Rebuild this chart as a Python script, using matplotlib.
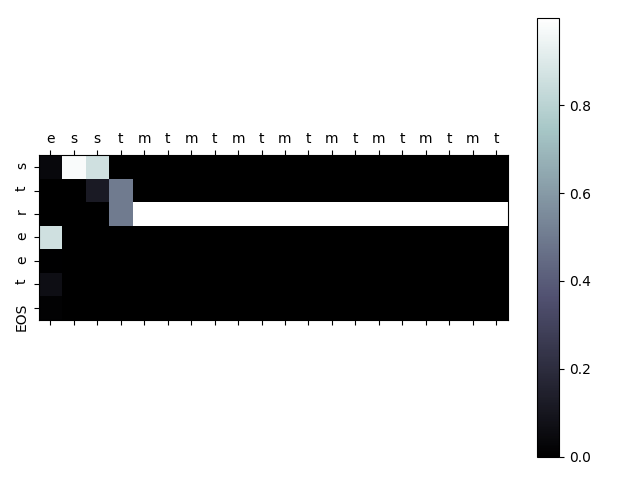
import matplotlib
matplotlib.use("Agg")
import matplotlib.pyplot as plt
import matplotlib.ticker as ticker
import numpy as np

input_labels = ["e", "s", "s", "t", "m", "t", "m", "t", "m", "t",
                "m", "t", "m", "t", "m", "t", "m", "t", "m", "t"]
output_labels = ["s", "t", "r", "e", "e", "t", "EOS"]

row_s = [0.04, 0.98, 0.86, 0, 0, 0, 0, 0, 0, 0, 0, 0, 0, 0, 0, 0, 0, 0, 0, 0]
row_t = [0.0, 0.0, 0.12, 0.50, 0, 0, 0, 0, 0, 0, 0, 0, 0, 0, 0, 0, 0, 0, 0, 0]
row_r = [0.0, 0.0, 0.0, 0.50, 0.998, 0.998, 0.998, 0.998, 0.998, 0.998,
         0.998, 0.998, 0.998, 0.998, 0.998, 0.998, 0.998, 0.998, 0.998, 0.998]
row_e1 = [0.86, 0, 0, 0, 0, 0, 0, 0, 0, 0, 0, 0, 0, 0, 0, 0, 0, 0, 0, 0]
row_e2 = [0.005, 0, 0, 0, 0, 0, 0, 0, 0, 0, 0, 0, 0, 0, 0, 0, 0, 0, 0, 0]
row_t2 = [0.07, 0, 0, 0, 0, 0, 0, 0, 0, 0, 0, 0, 0, 0, 0, 0, 0, 0, 0, 0]
row_eos = [0.015, 0, 0, 0, 0, 0, 0, 0, 0, 0, 0, 0, 0, 0, 0, 0, 0, 0, 0, 0]

attn = np.array([row_s, row_t, row_r, row_e1, row_e2, row_t2, row_eos])

fig = plt.figure(figsize=(6.4, 4.8), dpi=100)
ax = fig.add_subplot(111)
cax = ax.matshow(attn, cmap="bone")
fig.colorbar(cax)

ax.xaxis.set_major_locator(ticker.MultipleLocator(1))
ax.yaxis.set_major_locator(ticker.MultipleLocator(1))
ax.set_xticks(range(len(input_labels)))
ax.set_xticklabels(input_labels)
ax.set_yticks(range(len(output_labels)))
ax.set_yticklabels(output_labels, rotation=90)

plt.tight_layout(rect=[0, 0, 1, 0.993])
fig.savefig("out.png", dpi=100)
